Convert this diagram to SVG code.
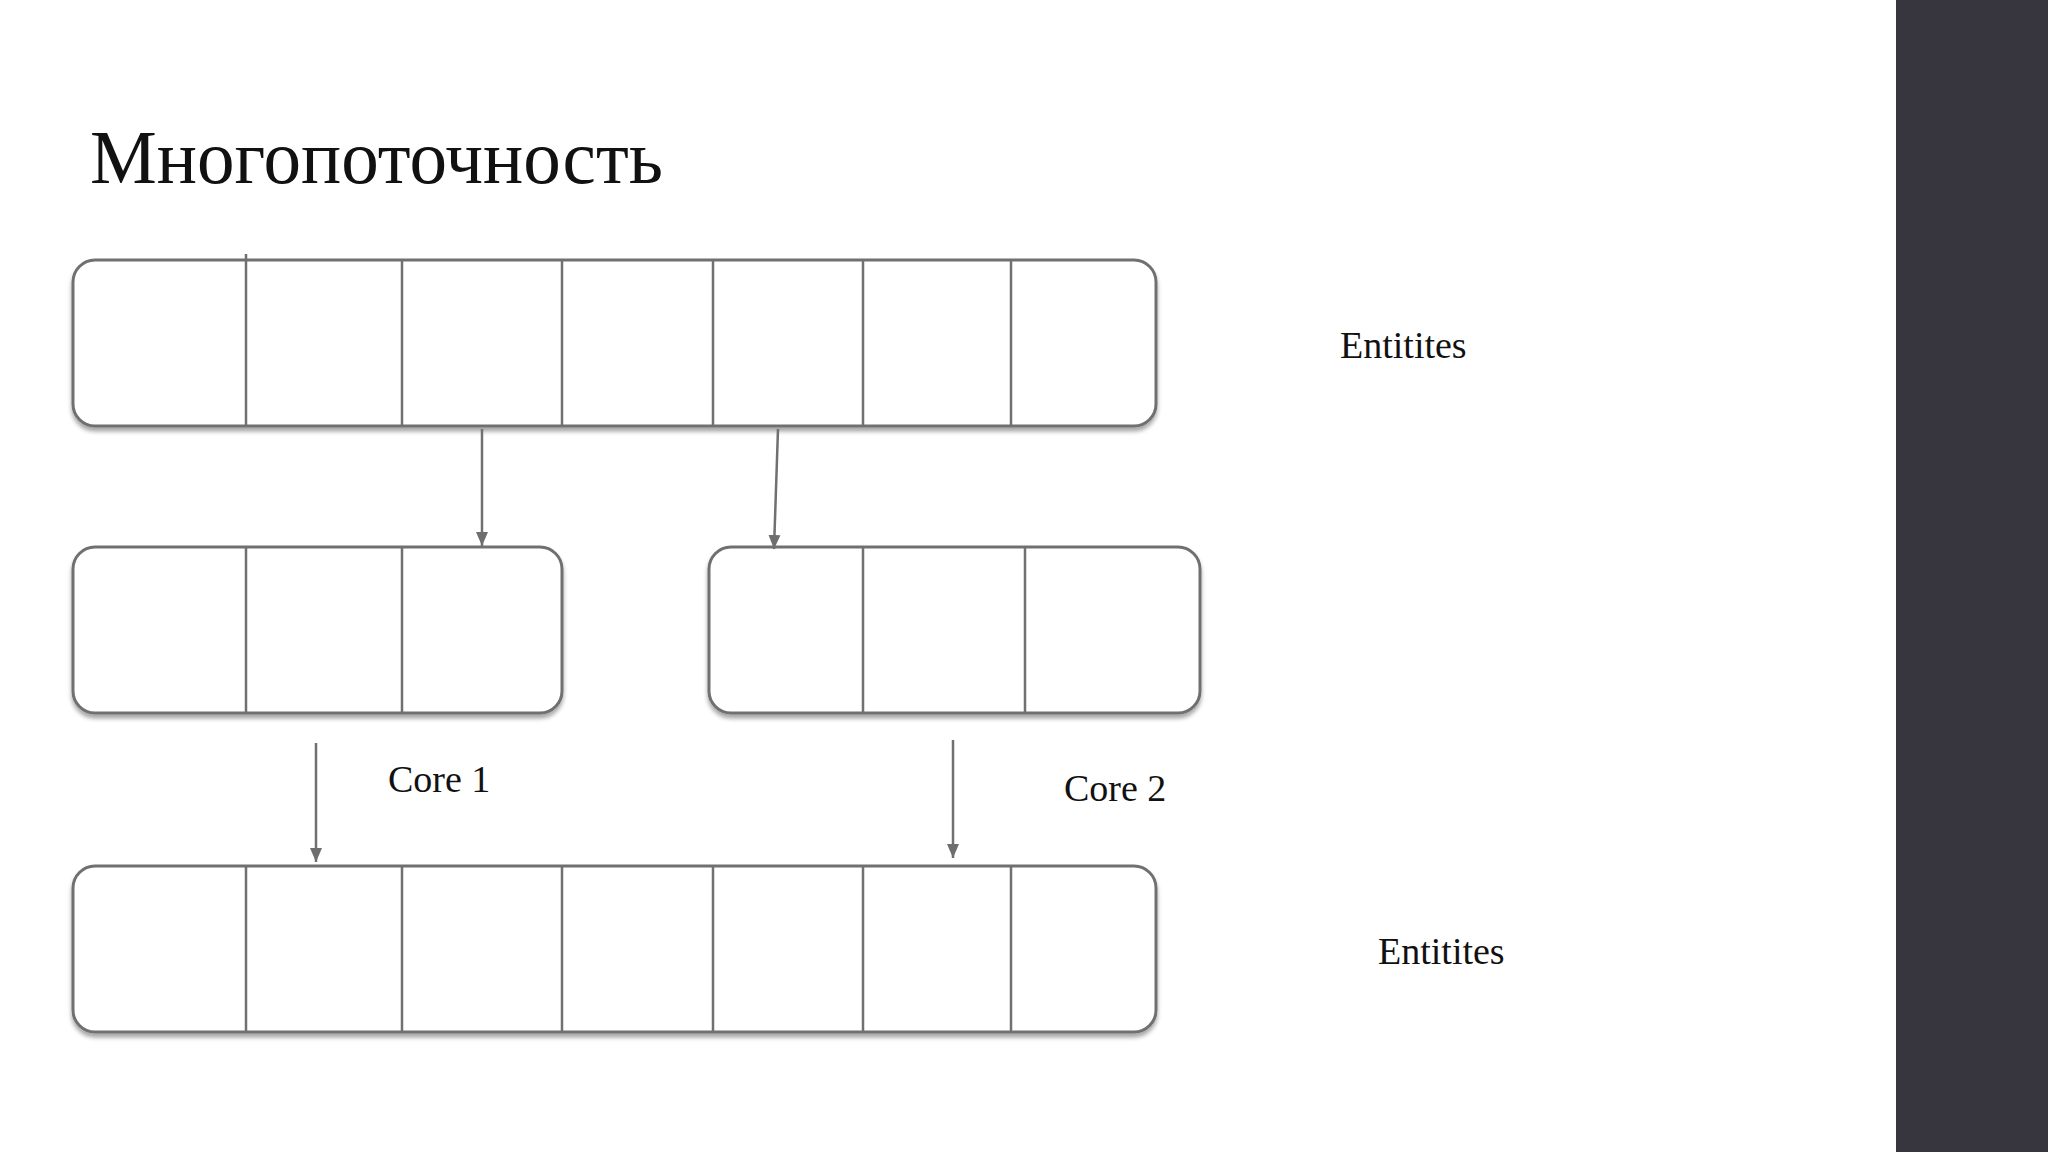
<svg xmlns="http://www.w3.org/2000/svg" width="2048" height="1152" viewBox="0 0 2048 1152">
<defs>
<filter id="sh" x="-5%" y="-5%" width="110%" height="120%"><feDropShadow dx="0" dy="4" stdDeviation="2" flood-color="#000" flood-opacity="0.35"/></filter>
<marker id="ah" markerWidth="10" markerHeight="10" refX="5" refY="9" orient="auto" markerUnits="userSpaceOnUse" viewBox="0 0 10 10"><path d="M0,0 L10,0 L5,10 Z" fill="#6e6e6e" transform="rotate(-90 5 5)"/></marker>
<marker id="a2" markerWidth="16" markerHeight="16" refX="14" refY="8" orient="auto" markerUnits="userSpaceOnUse"><path d="M0,2 L14,8 L0,14 Z" fill="#6e6e6e"/></marker>
</defs>
<style>
.box{fill:#fff;stroke:#707070;stroke-width:3;filter:url(#sh)}
.div{stroke:#707070;stroke-width:2.5}
.arr{stroke:#707070;stroke-width:2.5;fill:none;marker-end:url(#a2)}
.t{font-family:"Liberation Serif",serif;fill:#111}
</style>
<rect width="2048" height="1152" fill="#fff"/>
<rect x="1896" y="0" width="152" height="1152" fill="#37363e"/>
<text class="t" x="90" y="183" font-size="76" textLength="573" lengthAdjust="spacingAndGlyphs">Многопоточность</text>
<g id="top"><rect class="box" x="73" y="260" width="1083" height="166" rx="22"/>
<path class="div" d="M246 254V426M402 260V426M562 260V426M713 260V426M863 260V426M1011 260V426"/></g>
<g id="midL"><rect class="box" x="73" y="547" width="489" height="166" rx="22"/>
<path class="div" d="M246 547V713M402 547V713"/></g>
<g id="midR"><rect class="box" x="709" y="547" width="491" height="166" rx="22"/>
<path class="div" d="M863 547V713M1025 547V713"/></g>
<g id="bot"><rect class="box" x="73" y="866" width="1083" height="166" rx="22"/>
<path class="div" d="M246 866V1032M402 866V1032M562 866V1032M713 866V1032M863 866V1032M1011 866V1032"/></g>
<g id="connectors">
<path class="arr" d="M482 429V546"/>
<path class="arr" d="M778 429L774 549"/>
<path class="arr" d="M316 743V862"/>
<path class="arr" d="M953 740V858"/>
</g>
<text class="t" x="1340" y="358" font-size="38">Entitites</text>
<text class="t" x="1378" y="964" font-size="38">Entitites</text>
<text class="t" x="388" y="792" font-size="38">Core 1</text>
<text class="t" x="1064" y="801" font-size="38">Core 2</text>
</svg>
